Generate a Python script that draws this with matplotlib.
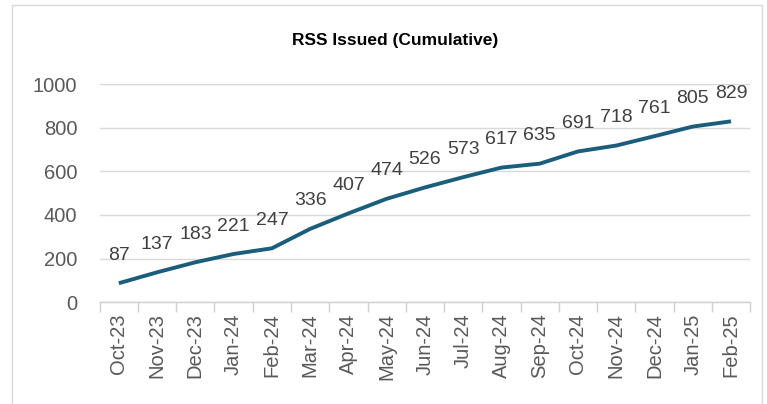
import matplotlib
matplotlib.use("Agg")
import matplotlib.pyplot as plt
from matplotlib.patches import Rectangle
import numpy as np

months = ["Oct-23", "Nov-23", "Dec-23", "Jan-24", "Feb-24", "Mar-24", "Apr-24", "May-24",
          "Jun-24", "Jul-24", "Aug-24", "Sep-24", "Oct-24", "Nov-24", "Dec-24", "Jan-25", "Feb-25"]
values = [87, 137, 183, 221, 247, 336, 407, 474, 526, 573, 617, 635, 691, 718, 761, 805, 829]
yticks = [0, 200, 400, 600, 800, 1000]
title = "RSS Issued (Cumulative)"

plt.rcParams['font.family'] = ['Liberation Sans', 'DejaVu Sans']
fig = plt.figure(figsize=(7.67, 4.04), dpi=100)
ax = fig.add_axes([0.130, 0.252, 0.848, 0.540])

n = len(months)
x = np.arange(n)
ax.plot(x, values, color='#1B5E7B', lw=2.8, solid_capstyle='butt', zorder=3)
for xi, v in zip(x, values):
    ax.annotate(str(v), (xi, v), xytext=(0, 14), textcoords='offset points',
                ha='center', va='bottom', fontsize=14, color='#404040')

ax.set_xlim(-0.5, n - 0.5)
ax.set_ylim(0, 1000)
ax.set_yticks(yticks)
ax.set_yticklabels([str(t) for t in yticks], fontsize=14.5, color='#595959')
ax.set_xticks(x)
ax.set_xticklabels(months, rotation=90, fontsize=14.5, color='#595959')
ax.set_xticks(np.arange(-0.5, n, 1.0), minor=True)
ax.tick_params(axis='x', which='major', length=0, pad=8)
ax.tick_params(axis='x', which='minor', length=7, color='#D0D0D0', width=1)
ax.tick_params(axis='y', length=0, pad=16)
ax.grid(axis='y', color='#D9D9D9', lw=1)
ax.set_axisbelow(True)
for s in ['left', 'right', 'top']:
    ax.spines[s].set_visible(False)
ax.spines['bottom'].set_color('#D0D0D0')
ax.spines['bottom'].set_linewidth(1)

fig.text(0.515, 0.90, title, ha='center', va='center', fontsize=12.5,
         fontweight='bold', color='black')

fig.patches.append(Rectangle((12 / 767, -0.01), (762 - 12) / 767, 1 - 5 / 404 + 0.01,
                             transform=fig.transFigure, fill=False,
                             edgecolor='#D9D9D9', lw=1))

fig.savefig("out.png", dpi=100)
